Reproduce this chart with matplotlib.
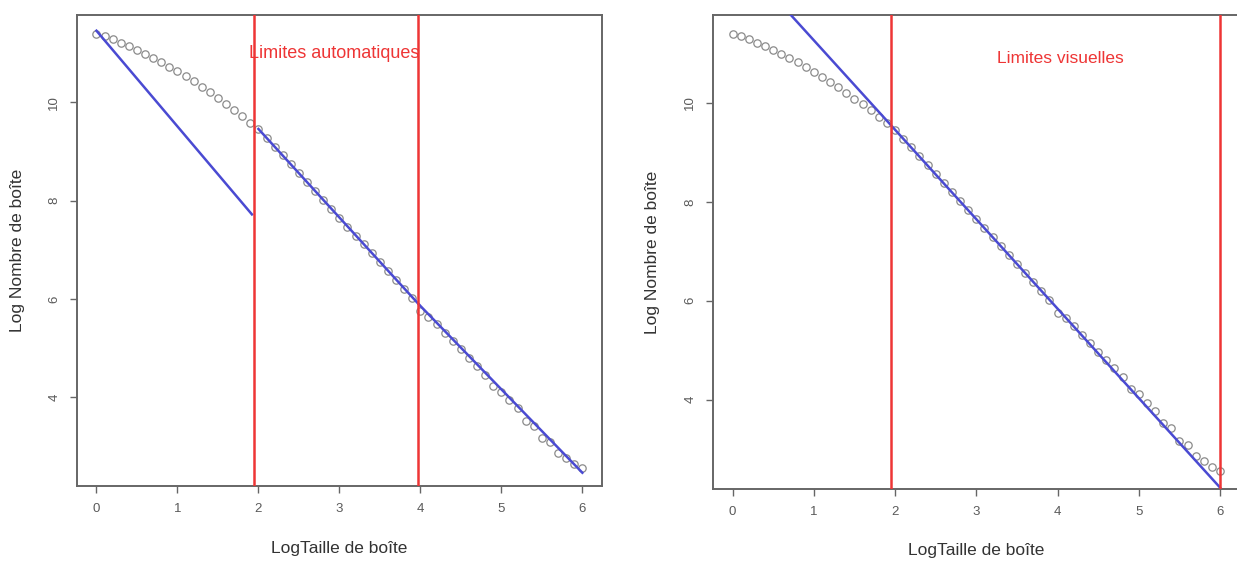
import matplotlib
matplotlib.use("Agg")
import matplotlib.pyplot as plt
import numpy as np

plt.rcParams['font.family'] = ['Liberation Sans', 'DejaVu Sans']

# ---- data ----
log_taille = [round(0.1 * i, 1) for i in range(61)]
log_nombre = [11.40, 11.35, 11.29, 11.22, 11.15, 11.07, 10.99, 10.91, 10.82, 10.73,
              10.63, 10.53, 10.43, 10.32, 10.21, 10.09, 9.97, 9.85, 9.72, 9.59,
              9.46, 9.28, 9.10, 8.92, 8.74, 8.56, 8.38, 8.19, 8.01, 7.83,
              7.65, 7.47, 7.29, 7.11, 6.93, 6.75, 6.57, 6.38, 6.20, 6.02,
              5.76, 5.64, 5.48, 5.31, 5.14, 4.97, 4.80, 4.63, 4.45, 4.22,
              4.11, 3.94, 3.77, 3.52, 3.42, 3.17, 3.08, 2.86, 2.75, 2.64, 2.55]

# fitted segments (automatic limits)
auto_seg_x = [[0.0, 1.92], [2.0, 3.98], [3.98, 6.0]]
auto_seg_y = [[11.46, 7.72], [9.46, 5.89], [5.89, 2.46]]
auto_limits = [1.94, 3.97]

# fitted line (visual limits)
vis_fit_x = [0.0, 6.0]
vis_fit_y = [13.08, 2.22]
vis_limits = [1.946, 6.0]

xticks = [0, 1, 2, 3, 4, 5, 6]
yticks = [4, 6, 8, 10]

W, H = 1237, 571
fig = plt.figure(figsize=(W / 100, H / 100), dpi=100)

def px_axes(l, r, t, b):
    return fig.add_axes([l / W, 1 - b / H, (r - l) / W, (b - t) / H])

ax1 = px_axes(77, 601.8, 15, 486)
ax2 = px_axes(713, 1239.5, 15, 489)

BLUE = '#4a4ad2'
RED = '#ee3535'
GRAY = '#5a5a5a'

def style(ax, h):
    ax.set_xlim(-0.24, 6.24)
    ax.set_ylim(2.19, 11.78)
    ax.set_xticks(xticks)
    ax.set_yticks(yticks)
    for s in ax.spines.values():
        s.set_color('#666666')
        s.set_linewidth(1.4)
    ax.tick_params(axis='both', colors='#666666', labelcolor=GRAY,
                   length=5, width=1.0, labelsize=9.5, pad=7)
    ax.tick_params(axis='y', labelrotation=90)
    for lab in ax.get_yticklabels():
        lab.set_va('center')
    ax.set_xlabel('LogTaille de boîte', fontsize=12.5, color='#333333', va='center')
    ax.set_ylabel('Log Nombre de boîte', fontsize=12.5, color='#333333', va='center')
    ax.xaxis.set_label_coords(0.5, -62 / h)

def pts(ax):
    ax.plot(log_taille, log_nombre, linestyle='none', marker='o', markersize=5.3,
            markerfacecolor='none', markeredgecolor='#8a8a8a', markeredgewidth=0.9,
            zorder=2)

# left panel
pts(ax1)
for sx, sy in zip(auto_seg_x, auto_seg_y):
    ax1.plot(sx, sy, color=BLUE, linewidth=1.8, zorder=3)
for v in auto_limits:
    ax1.axvline(v, color=RED, linewidth=1.8, zorder=4)
ax1.text(2.94, 10.99, 'Limites automatiques', color=RED, fontsize=13,
         ha='center', va='center', zorder=1)
style(ax1, 471)
ax1.yaxis.set_label_coords(-59 / 524.8, 0.5)

# right panel
pts(ax2)
ax2.plot(vis_fit_x, vis_fit_y, color=BLUE, linewidth=1.8, zorder=3)
for v in vis_limits:
    ax2.axvline(v, color=RED, linewidth=1.8, zorder=4)
ax2.text(4.03, 10.9, 'Limites visuelles', color=RED, fontsize=12.5,
         ha='center', va='center', zorder=1)
style(ax2, 474)
ax2.yaxis.set_label_coords(-61 / 526.5, 0.5)

fig.savefig('out.png', dpi=100)
